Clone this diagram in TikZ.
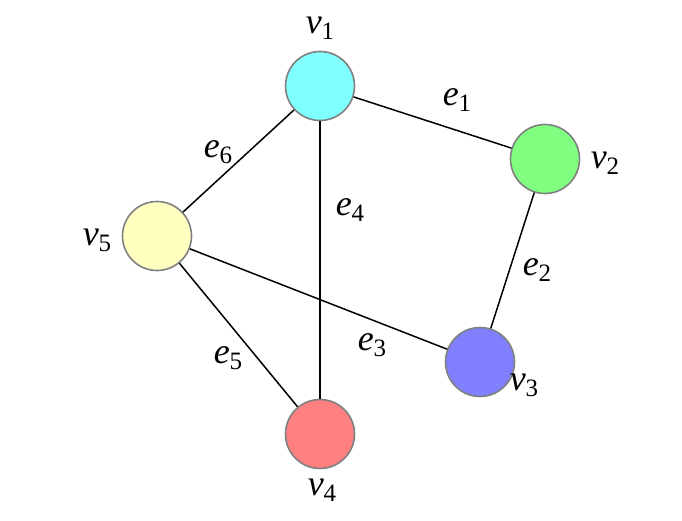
\documentclass[tikz,border=0pt]{standalone}
\usepackage{fontspec}
\setmainfont{Liberation Serif}
\newcommand{\lbl}[2]{{\itshape #1}\raisebox{-0.35ex}{\fontsize{25}{28}\selectfont #2}}
\begin{document}
\begin{tikzpicture}[x=1pt,y=-1pt,
  vert/.style={circle,draw=black!50,line width=1.6pt,minimum size=69pt,inner sep=0pt},
  edge/.style={line width=1.5pt,black},
  tag/.style={font=\fontsize{36}{40}\selectfont,inner sep=0pt}]
\useasboundingbox (0,0) rectangle (682,520);
\node[vert,fill={rgb,255:red,128;green,255;blue,255}] (v1) at (320,86) {};
\node[vert,fill={rgb,255:red,128;green,255;blue,128}] (v2) at (545,159) {};
\node[vert,fill={rgb,255:red,128;green,128;blue,255}] (v3) at (480,362) {};
\node[vert,fill={rgb,255:red,255;green,128;blue,128}] (v4) at (320,434) {};
\node[vert,fill={rgb,255:red,255;green,255;blue,192}] (v5) at (157,236) {};
\draw[edge] (v1) -- (v2);
\draw[edge] (v2) -- (v3);
\draw[edge] (v3) -- (v5);
\draw[edge] (v1) -- (v4);
\draw[edge] (v4) -- (v5);
\draw[edge] (v5) -- (v1);
\node[tag] (l1) at (320,28) {\lbl{v}{1}};
\node[tag] (l2) at (605,163) {\lbl{v}{2}};
\node[tag] (l3) at (524,385) {\lbl{v}{3}};
\node[tag] (l4) at (322,490) {\lbl{v}{4}};
\node[tag] (l5) at (97,240) {\lbl{v}{5}};
\node[tag] (m1) at (457,100) {\lbl{e}{1}};
\node[tag] (m2) at (537,270) {\lbl{e}{2}};
\node[tag] (m3) at (372,345) {\lbl{e}{3}};
\node[tag] (m4) at (350,210) {\lbl{e}{4}};
\node[tag] (m5) at (228,358) {\lbl{e}{5}};
\node[tag] (m6) at (218,152) {\lbl{e}{6}};
\end{tikzpicture}
\end{document}
